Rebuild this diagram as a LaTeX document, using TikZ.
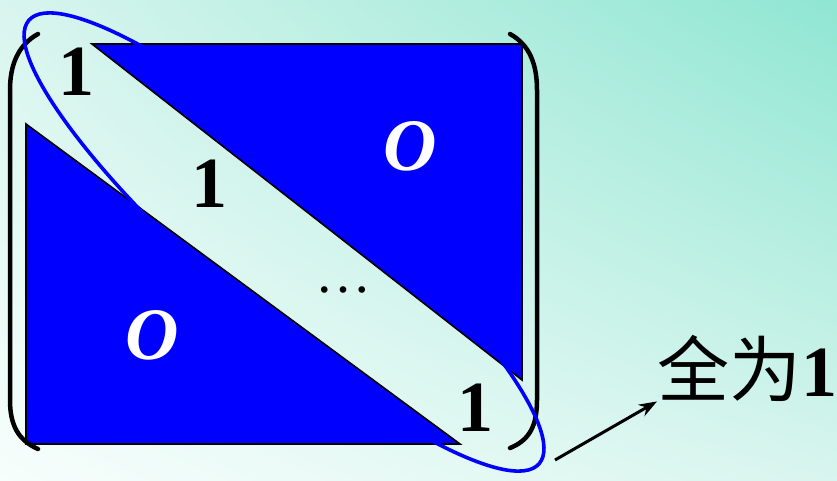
\documentclass[tikz,border=0pt]{standalone}
\usepackage{fontspec}
\setmainfont{Liberation Serif}
\newfontfamily\cjk{Noto Sans CJK SC}
\usepackage{tikz}
\usetikzlibrary{arrows.meta,positioning,calc,shadings}
\definecolor{mint}{HTML}{8FE6D2}
\definecolor{mintpale}{HTML}{D8F5EE}
\definecolor{paper}{HTML}{F7FEFC}
\definecolor{pureblue}{HTML}{0000FF}
\tikzset{
  block/.style={fill=pureblue, draw=black, line width=1.6pt, line join=miter},
  paren/.style={draw=black, line width=4.5pt, line cap=round},
  one/.style={font=\fontsize{72}{80}\selectfont\bfseries, inner sep=0pt},
  zero/.style={font=\fontsize{74}{80}\selectfont\bfseries\itshape, text=white, inner sep=0pt},
  ring/.style={draw=pureblue, line width=3.6pt},
  pointer/.style={-{Stealth[length=18pt, width=13pt]}, line width=3pt},
}

\begin{document}
\begin{tikzpicture}[x=1pt, y=-1pt]
% background
\useasboundingbox (0,0) rectangle (837,481);
\shade[lower left=paper, upper right=mint, upper left=mintpale, lower right=mintpale]
  (0,0) rectangle (837,481);

% the two zero blocks
\draw[block] (92,44) -- (522,44) -- (522,380) -- cycle;
\draw[block] (26,124) -- (460,444) -- (26,444) -- cycle;

% brackets
\draw[paren] (38,34) .. controls (18,45) and (10,65) .. (10,90) -- (10,400)
  .. controls (10,425) and (18,440) .. (38,449);
\draw[paren] (510,34) .. controls (530,45) and (537,65) .. (537,90) -- (537,400)
  .. controls (537,425) and (530,440) .. (510,448);

% entries
\node[one] (d1) at (76,72) {1};
\node[one] (d2) at (209,184) {1};
\node[one] (d3) at (475,408) {1};
\node[font=\fontsize{56}{60}\selectfont, inner sep=0pt] (dots) at (343,290) {\ldots};
\node[zero] (z-up) at (410,146) {O};
\node[zero] (z-low) at (152,335) {O};

% diagonal ring and label
\draw[ring] (284,242) ellipse[x radius=338, y radius=76, rotate=-41];
\coordinate (ring-end) at (555,460);
\node[font=\fontsize{72}{80}\selectfont, inner sep=0pt, anchor=west] (all-one) at (657,368)
  {{\cjk 全为}\textbf{1}};
\draw[pointer] (ring-end) -- (all-one.south west);
\end{tikzpicture}
\end{document}
